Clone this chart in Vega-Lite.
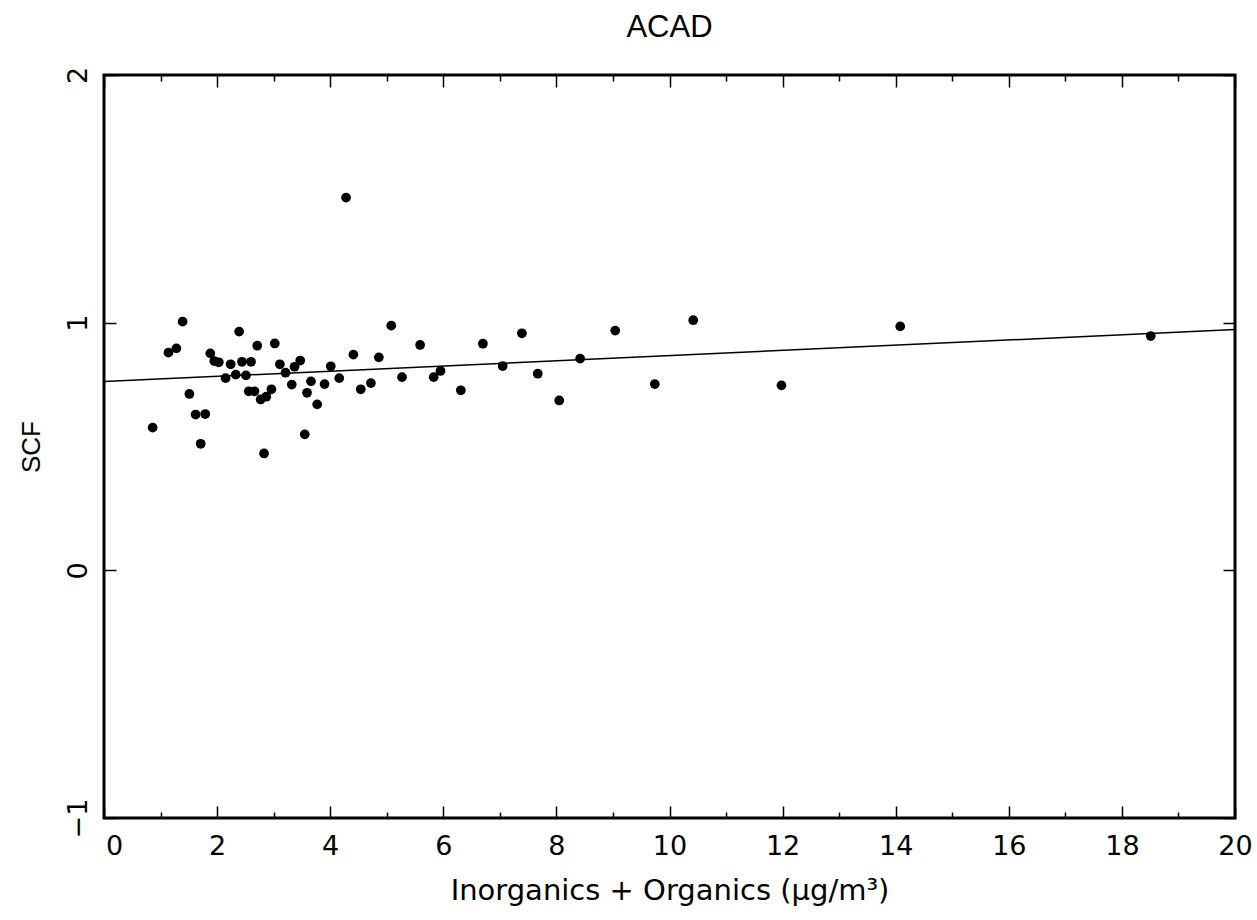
{
  "$schema": "https://vega.github.io/schema/vega-lite/v6.json",
  "width": 1131,
  "height": 743,
  "autosize": {"type": "none"},
  "padding": {"left": 104, "top": 75, "right": 22, "bottom": 102},
  "background": "white",
  "config": {
    "view": {"stroke": "black", "strokeWidth": 3},
    "axis": {"domain": false, "grid": false, "ticks": true, "tickColor": "black", "tickWidth": 1.5, "labelColor": "black", "titleColor": "black"}
  },
  "title": {"text": "ACAD", "font": "Liberation Sans", "fontSize": 31, "fontWeight": "normal", "color": "black", "anchor": "middle", "offset": 22},
  "datasets": {
    "pts": [
      {"x": 0.86, "y": 0.576}, {"x": 1.14, "y": 0.879}, {"x": 1.28, "y": 0.896}, {"x": 1.39, "y": 1.004},
      {"x": 1.51, "y": 0.712}, {"x": 1.62, "y": 0.629}, {"x": 1.79, "y": 0.631}, {"x": 1.71, "y": 0.511},
      {"x": 1.88, "y": 0.876}, {"x": 1.95, "y": 0.845}, {"x": 2.03, "y": 0.840}, {"x": 2.15, "y": 0.776},
      {"x": 2.24, "y": 0.832}, {"x": 2.33, "y": 0.790}, {"x": 2.39, "y": 0.964}, {"x": 2.44, "y": 0.842},
      {"x": 2.51, "y": 0.787}, {"x": 2.60, "y": 0.842}, {"x": 2.56, "y": 0.723}, {"x": 2.66, "y": 0.723},
      {"x": 2.71, "y": 0.907}, {"x": 2.77, "y": 0.690}, {"x": 2.83, "y": 0.472}, {"x": 2.87, "y": 0.701},
      {"x": 2.96, "y": 0.731}, {"x": 3.02, "y": 0.916}, {"x": 3.11, "y": 0.832}, {"x": 3.21, "y": 0.798},
      {"x": 3.32, "y": 0.750}, {"x": 3.37, "y": 0.822}, {"x": 3.47, "y": 0.847}, {"x": 3.55, "y": 0.549},
      {"x": 3.59, "y": 0.717}, {"x": 3.66, "y": 0.763}, {"x": 3.77, "y": 0.670}, {"x": 3.90, "y": 0.752},
      {"x": 4.01, "y": 0.824}, {"x": 4.16, "y": 0.776}, {"x": 4.28, "y": 1.505}, {"x": 4.41, "y": 0.871},
      {"x": 4.54, "y": 0.731}, {"x": 4.72, "y": 0.756}, {"x": 4.86, "y": 0.860}, {"x": 5.08, "y": 0.988},
      {"x": 5.27, "y": 0.780}, {"x": 5.59, "y": 0.910}, {"x": 5.83, "y": 0.780}, {"x": 5.95, "y": 0.805},
      {"x": 6.31, "y": 0.727}, {"x": 6.70, "y": 0.915}, {"x": 7.05, "y": 0.825}, {"x": 7.39, "y": 0.957},
      {"x": 7.67, "y": 0.794}, {"x": 8.05, "y": 0.686}, {"x": 8.42, "y": 0.855}, {"x": 9.04, "y": 0.968},
      {"x": 9.74, "y": 0.752}, {"x": 10.42, "y": 1.010}, {"x": 11.98, "y": 0.747}, {"x": 14.08, "y": 0.985},
      {"x": 18.51, "y": 0.946}
    ],
    "fit": [{"x": 0, "y": 0.762}, {"x": 20, "y": 0.972}]
  },
  "resolve": {"axis": {"x": "independent", "y": "independent"}},
  "layer": [
    {
      "data": {"name": "pts"},
      "mark": {"type": "point", "filled": true, "color": "black", "opacity": 1, "size": 95},
      "encoding": {
        "x": {"field": "x", "type": "quantitative", "scale": {"domain": [0, 20], "nice": false, "zero": false},
          "axis": {"orient": "bottom", "values": [0,1,2,3,4,5,6,7,8,9,10,11,12,13,14,15,16,17,18,19,20],
            "labelExpr": "datum.value % 2 === 0 ? datum.label : ''",
            "tickSize": {"condition": {"test": "datum.value % 2 === 0", "value": -12}, "value": -6},
            "labelOffset": {"condition": {"test": "datum.value === 0", "value": 10}, "value": 0},
            "labelOverlap": false, "labelFlush": false, "labelPadding": 27,
            "labelFont": "DejaVu Sans", "labelFontSize": 27,
            "title": "Inorganics + Organics (μg/m³)", "titleFont": "DejaVu Sans", "titleFontSize": 29, "titleFontWeight": "normal", "titlePadding": 11}},
        "y": {"field": "y", "type": "quantitative", "scale": {"domain": [-1, 2], "nice": false, "zero": false},
          "axis": {"orient": "left", "values": [-1, 0, 1, 2], "tickSize": -12, "labelAngle": -90, "labelAlign": "center", "labelBaseline": "bottom",
            "labelPadding": 24, "labelFont": "DejaVu Sans", "labelFontSize": 27, "labelFlush": false,
            "title": "SCF", "titleFont": "Liberation Sans", "titleFontSize": 26, "titleFontWeight": "normal", "titlePadding": 20}}
      }
    },
    {
      "data": {"name": "fit"},
      "mark": {"type": "line", "color": "black", "strokeWidth": 1.5},
      "encoding": {
        "x": {"field": "x", "type": "quantitative", "scale": {"domain": [0, 20], "nice": false, "zero": false},
          "axis": {"orient": "top", "values": [0,1,2,3,4,5,6,7,8,9,10,11,12,13,14,15,16,17,18,19,20], "labels": false, "title": null,
            "tickSize": {"condition": {"test": "datum.value % 2 === 0", "value": -12}, "value": -6}}},
        "y": {"field": "y", "type": "quantitative", "scale": {"domain": [-1, 2], "nice": false, "zero": false},
          "axis": {"orient": "right", "values": [-1, 0, 1, 2], "labels": false, "title": null, "tickSize": -12}}
      }
    }
  ]
}
